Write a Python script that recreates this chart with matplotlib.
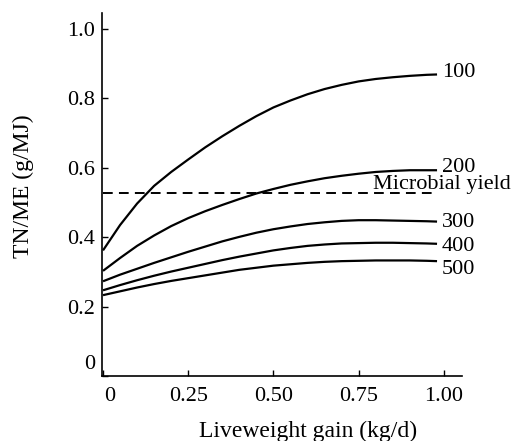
import matplotlib
matplotlib.use("Agg")
import matplotlib.pyplot as plt
import matplotlib.transforms as mtransforms

plt.rcParams['font.family'] = ['Liberation Serif', 'DejaVu Serif']

gain = [0, 0.05, 0.1, 0.15, 0.2, 0.25, 0.3, 0.35, 0.4, 0.45, 0.5,
        0.55, 0.6, 0.65, 0.7, 0.75, 0.8, 0.85, 0.9, 0.95, 0.98]
curve_100 = [0.362, 0.435, 0.497, 0.548, 0.588, 0.624, 0.659, 0.691, 0.721, 0.749, 0.774,
             0.794, 0.812, 0.827, 0.839, 0.849, 0.856, 0.861, 0.865, 0.868, 0.869]
curve_200 = [0.303, 0.34, 0.375, 0.405, 0.432, 0.455, 0.475, 0.493, 0.51, 0.526, 0.539,
             0.551, 0.561, 0.57, 0.577, 0.583, 0.588, 0.591, 0.593, 0.593, 0.593]
curve_300 = [0.273, 0.292, 0.309, 0.326, 0.342, 0.358, 0.373, 0.388, 0.401, 0.413, 0.423,
             0.431, 0.438, 0.443, 0.447, 0.449, 0.449, 0.448, 0.447, 0.446, 0.445]
curve_400 = [0.247, 0.262, 0.276, 0.289, 0.301, 0.312, 0.323, 0.334, 0.344, 0.353, 0.362,
             0.369, 0.375, 0.379, 0.382, 0.383, 0.384, 0.384, 0.383, 0.382, 0.381]
curve_500 = [0.233, 0.244, 0.255, 0.265, 0.274, 0.282, 0.29, 0.298, 0.306, 0.312, 0.318,
             0.322, 0.326, 0.329, 0.331, 0.332, 0.333, 0.333, 0.333, 0.332, 0.331]
labels = ["100", "200", "300", "400", "500"]
label_y = [0.875, 0.601, 0.442, 0.372, 0.307]
curves = [curve_100, curve_200, curve_300, curve_400, curve_500]
microbial_yield = 0.528

x_ticks = [0, 0.25, 0.5, 0.75, 1.0]
x_tick_labels = ["0", "0.25", "0.50", "0.75", "1.00"]
y_ticks = [0, 0.2, 0.4, 0.6, 0.8, 1.0]
y_tick_labels = ["0", "0.2", "0.4", "0.6", "0.8", "1.0"]

fig = plt.figure(figsize=(5.12, 4.41), dpi=100)
ax = fig.add_axes([0.1992, 0.1474, 0.703, 0.823])

for name, vals, ly in zip(labels, curves, label_y):
    ax.plot(gain, vals, color='black', lw=1.6, solid_capstyle='butt')
    ax.text(0.994, ly, name, fontsize=16, va='center', ha='left')

ax.plot([gain[0], gain[-1]], [microbial_yield, microbial_yield], color='black',
        lw=1.4, linestyle=(0, (5, 3.2)))
ax.text(1.196, 0.538, "Microbial yield", fontsize=16,
        va='baseline', ha='right')

ax.set_xlim(-0.003, 1.053)
ax.set_ylim(0.005, 1.046)
ax.set_xticks(x_ticks)
ax.set_xticklabels(x_tick_labels, fontsize=16)
ax.set_yticks(y_ticks)
ax.set_yticklabels(y_tick_labels, fontsize=16)
ax.tick_params(direction='in', length=4, width=1)
ax.tick_params(axis='x', pad=8)
ax.tick_params(axis='y', pad=5)

for s in ['top', 'right']:
    ax.spines[s].set_visible(False)
for s in ['left', 'bottom']:
    ax.spines[s].set_linewidth(1.2)

# raise the "0" y tick label and nudge the "0" x tick label, as in the original
off = mtransforms.ScaledTranslation(0, 14 / 100, fig.dpi_scale_trans)
lab0 = ax.get_yticklabels()[0]
lab0.set_transform(lab0.get_transform() + off)
offx = mtransforms.ScaledTranslation(7 / 100, 0, fig.dpi_scale_trans)
labx0 = ax.get_xticklabels()[0]
labx0.set_transform(labx0.get_transform() + offx)

ax.set_xlabel("Liveweight gain (kg/d)", fontsize=17)
ax.set_ylabel("TN/ME (g/MJ)", fontsize=17)
ax.xaxis.set_label_coords(0.572, -0.124)
ax.yaxis.set_label_coords(-0.219, 0.523)
ax.yaxis.label.set_verticalalignment('center')

fig.savefig("out.png", dpi=100)
